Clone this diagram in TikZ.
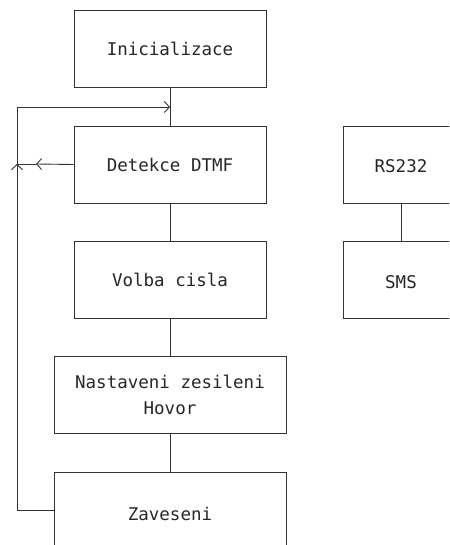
\documentclass[tikz,border=0pt]{standalone}
\usepackage{fontspec}
\setmonofont{DejaVu Sans Mono}
\usetikzlibrary{arrows.meta}
\begin{document}
\begin{tikzpicture}[x=1pt,y=-1pt,
  txt/.style={font=\ttfamily\fontsize{17.5}{26}\selectfont, text=black!85},
  blk/.style={draw=black!80, line width=0.9pt, minimum height=77pt, inner sep=0pt, txt, align=center},
  nar/.style={blk, minimum width=192pt},
  wid/.style={blk, minimum width=232pt},
  con/.style={draw=black!80, line width=0.9pt},
  tip/.style={-{Straight Barb[length=5pt,width=11pt,line width=0.9pt]}}]
\useasboundingbox (0,0) rectangle (449,545);
\clip (0,0) rectangle (449,545);
\node[nar] (ini) at (170,48.5) {Inicializace};
\node[nar] (det) at (170,164.5) {Detekce DTMF};
\node[nar] (vol) at (170,279.5) {Volba cisla};
\node[wid] (nas) at (170,394.5) {Nastaveni zesileni\\Hovor};
\node[wid, minimum height=100pt] (zav) at (170,522) {};
\node[txt] (zavt) at (170,514) {Zaveseni};
\node[blk, minimum width=130pt] (rs) at (408,164.5) {};
\node[txt] (rst) at (401,166) {RS232};
\node[blk, minimum width=130pt] (sms) at (408,279.5) {};
\node[txt] (smst) at (401,282) {SMS};
\coordinate (lb) at (17,510);
\coordinate (lt) at (17,107);
\coordinate (jn) at (170,107);
\coordinate (lm) at (17,164);
\coordinate (am) at (36,164);
\coordinate (ub) at (17,185);
\draw[con] (ini.south) -- (det.north);
\draw[con] (det.south) -- (vol.north);
\draw[con] (vol.south) -- (nas.north);
\draw[con] (nas.south) -- (zav.north);
\draw[con] (rs.south -| rst) -- (sms.north -| smst);
\draw[con, tip] (zav.west |- lb) -- (lb) -- (lt) -- (jn);
\draw[con, tip] (det.west) -- (am);
\draw[con] (am) -- (lm);
\draw[con, tip] (ub) -- (lm);
\end{tikzpicture}
\end{document}
